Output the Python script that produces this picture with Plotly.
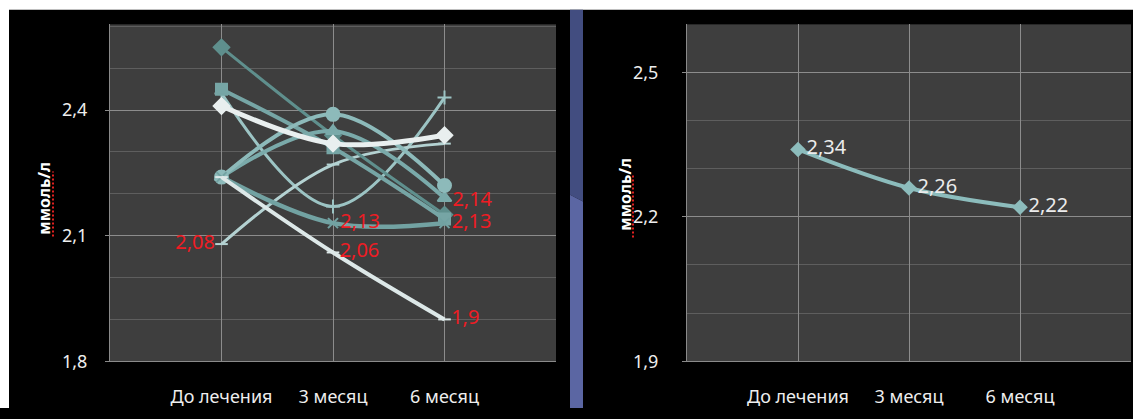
import plotly.graph_objects as go

# Categories (time points)
categories = ["До лечения", "3 месяц", "6 месяц"]

# Individual patients, ммоль/л
s_diamond = [2.55, 2.34, 2.15]
s_square = [2.45, 2.31, 2.14]
s_white = [2.41, 2.32, 2.34]
s_circle = [2.24, 2.39, 2.22]
s_triangle = [2.24, 2.35, 2.19]
s_cross = [2.24, 2.13, 2.13]
s_fall = [2.24, 2.06, 1.9]
s_plus = [2.44, 2.17, 2.43]
s_rise = [2.08, 2.27, 2.32]

# Mean values
s_mean = [2.34, 2.26, 2.22]

# Left panel y ticks and right panel y ticks
left_ticks = [1.8, 2.1, 2.4]
right_ticks = [1.9, 2.2, 2.5]

FONT = "Noto Sans"
W, H = 1133, 419


def fmt(v):
    return str(v).replace(".", ",")


def labels(values, idx):
    return [fmt(v) if i in idx else "" for i, v in enumerate(values)]


fig = go.Figure()

# (values, marker symbol, color, line width, marker size, labelled points, label positions)
series = [
    (s_plus, "cross-thin", "#9cc4c4", 3, 10, [], None),
    (s_rise, "line-ew", "#b4d2d2", 3, 9, [0], ["middle left"] * 3),
    (s_diamond, "diamond", "#5f8f8d", 3, 12, [], None),
    (s_square, "square", "#76a5a5", 4, 11, [2], ["top right"] * 3),
    (s_triangle, "triangle-up", "#7aaaaa", 4, 12, [], None),
    (s_circle, "circle", "#8dbaba", 4, 13, [], None),
    (s_cross, "x-thin", "#72a2a2", 4.5, 10, [1, 2], ["middle right"] * 3),
    (s_fall, "line-ew", "#dde8e8", 4, 9, [1, 2], ["middle right"] * 3),
    (s_white, "diamond", "#e9efef", 5, 12, [], None),
]

for vals, sym, col, lw, ms, idx, pos in series:
    mode = "lines+markers+text" if idx else "lines+markers"
    fig.add_trace(go.Scatter(
        x=categories, y=vals, mode=mode,
        line=dict(color=col, width=lw, shape="spline", smoothing=1),
        marker=dict(symbol=sym, size=ms, color=col,
                    line=dict(color=col, width=2)),
        text=labels(vals, idx) if idx else None,
        textposition=pos if idx else None,
        textfont=dict(family=FONT, size=20, color="#ee1c24"),
        xaxis="x", yaxis="y", showlegend=False, cliponaxis=False,
    ))

fig.add_trace(go.Scatter(
    x=categories, y=s_mean, mode="lines+markers+text",
    line=dict(color="#8cbcbc", width=4, shape="spline", smoothing=1),
    marker=dict(symbol="diamond", size=12, color="#8cbcbc"),
    text=[fmt(v) for v in s_mean], textposition="middle right",
    textfont=dict(family=FONT, size=20, color="#ececec"),
    xaxis="x2", yaxis="y2", showlegend=False, cliponaxis=False,
))


def px_x(a, b):
    return [a / W, b / W]


def px_y(top, bottom):
    return [(H - bottom) / H, (H - top) / H]


axis_common = dict(
    showline=True, linecolor="#8a8a8a", linewidth=1,
    gridcolor="#8c8c8c", gridwidth=1,
    tickfont=dict(family=FONT, size=18, color="#eeeeee"),
    zeroline=False, fixedrange=True,
)

fig.update_layout(
    width=W, height=H,
    margin=dict(l=0, r=0, t=0, b=0),
    paper_bgcolor="black",
    plot_bgcolor="#3e3e3e",
    separators=", ",
    xaxis=dict(domain=px_x(110, 556), anchor="y", type="category",
               range=[-1, 3], ticks="", ticklabelstandoff=19, **axis_common),
    yaxis=dict(domain=px_y(25, 371), anchor="x", range=[1.8, 2.605],
               tickvals=left_ticks, ticks="outside", ticklen=4,
               tickcolor="#8a8a8a", ticklabelstandoff=14,
               minor=dict(dtick=0.1, tick0=1.8, showgrid=True,
                          gridcolor="#5e5e5e", gridwidth=1),
               **axis_common),
    xaxis2=dict(domain=px_x(687, 1131), anchor="y2", type="category",
                range=[-1, 3], ticks="", ticklabelstandoff=19, **axis_common),
    yaxis2=dict(domain=px_y(25, 371), anchor="x2", range=[1.9, 2.6],
                tickvals=right_ticks, ticks="outside", ticklen=4,
                tickcolor="#8a8a8a", ticklabelstandoff=20,
                minor=dict(dtick=0.1, tick0=1.9, showgrid=True,
                           gridcolor="#5e5e5e", gridwidth=1),
                **axis_common),
)

# Slide frame: white margins on top and left, blue stripe between panels
shapes = [
    dict(type="rect", xref="paper", yref="paper", layer="below",
         x0=0, x1=1, y0=(H - 10) / H, y1=1,
         fillcolor="white", line=dict(width=0)),
    dict(type="rect", xref="paper", yref="paper", layer="below",
         x0=0, x1=9 / W, y0=0, y1=1,
         fillcolor="white", line=dict(width=0)),
    dict(type="path", xref="paper", yref="paper", layer="below",
         path=f"M {570 / W},{(H - 10) / H} L {583 / W},{(H - 10) / H} "
              f"L {583 / W},{(H - 207) / H} L {570 / W},{(H - 200) / H} Z",
         fillcolor="#424d80", line=dict(width=0)),
    dict(type="path", xref="paper", yref="paper", layer="below",
         path=f"M {570 / W},{(H - 200) / H} L {583 / W},{(H - 207) / H} "
              f"L {583 / W},0 L {570 / W},0 Z",
         fillcolor="#5b66a3", line=dict(width=0)),
    # spell-check underline under the axis captions
    dict(type="line", xref="paper", yref="paper",
         x0=53 / W, x1=53 / W, y0=(H - 243) / H, y1=(H - 176) / H,
         line=dict(color="#e02020", width=2, dash="2px,2px")),
    dict(type="line", xref="paper", yref="paper",
         x0=633 / W, x1=633 / W, y0=(H - 244) / H, y1=(H - 180) / H,
         line=dict(color="#e02020", width=2, dash="2px,2px")),
]
fig.update_layout(shapes=shapes)

for xc, yc in [(44, 203), (625, 200)]:
    fig.add_annotation(
        x=xc / W, y=(H - yc) / H, xref="paper", yref="paper",
        xanchor="center", yanchor="middle",
        text="<b>ммоль/л</b>", textangle=-90, showarrow=False,
        font=dict(family=FONT, size=16, color="white"),
    )

fig.write_html("out.html")
